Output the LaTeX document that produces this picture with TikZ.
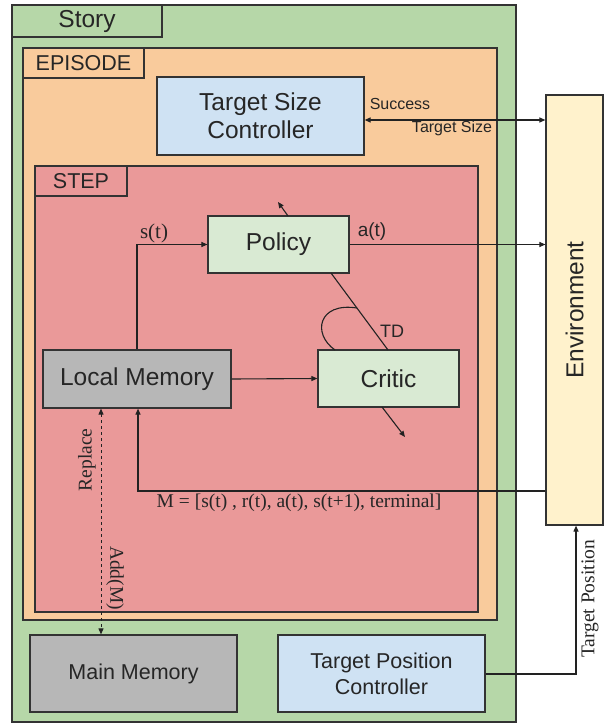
\documentclass[tikz,border=0pt]{standalone}
\usepackage{fontspec}
\setmainfont{Liberation Serif}
\setsansfont{Liberation Sans}
\usetikzlibrary{arrows.meta}
\definecolor{storyc}{HTML}{B6D7A8}
\definecolor{epic}{HTML}{F9CB9C}
\definecolor{stepc}{HTML}{EA9999}
\definecolor{tscc}{HTML}{CFE2F3}
\definecolor{polc}{HTML}{D9EAD3}
\definecolor{memc}{HTML}{B7B7B7}
\definecolor{envc}{HTML}{FFF2CC}
\definecolor{linec}{HTML}{333333}
\definecolor{arrc}{HTML}{222222}
\newcommand\fsz[2]{\fontsize{#1}{#2}\selectfont}
\tikzset{
  box/.style={draw=linec, line width=1.2pt, inner sep=0pt, align=center, text=black!85},
  sz/.style 2 args={minimum width=#1pt, minimum height=#2pt},
  conn/.style={draw=arrc, line width=1.1pt},
  arr/.style={conn, -{Triangle[length=6pt,width=5pt]}},
  arrboth/.style={conn, {Triangle[length=6pt,width=5pt]}-{Triangle[length=6pt,width=5pt]}},
  bigsans/.style={font=\sffamily\fsz{24.5}{28}},
  midsans/.style={font=\sffamily\fsz{21.5}{26}},
  smallsans/.style={font=\sffamily\fsz{16}{18}, inner sep=0pt, text=black!85},
  serif/.style={font=\rmfamily\fsz{19.5}{22}, inner sep=0pt, text=black!85},
}
\begin{document}
\begin{tikzpicture}[x=1pt,y=-1pt]
\useasboundingbox (0,0) rectangle (606,725);
% containers
\node[box, fill=storyc, sz={504}{717}] (story) at (264,363.5) {};
\node[box, fill=storyc, sz={150}{32}, bigsans] (storylab) at (87,21) {Story};
\node[box, fill=epic, sz={474}{572}] (episode) at (260,334) {};
\node[box, fill=epic, sz={121}{30}, midsans] (eplab) at (83.5,63) {EPISODE};
\node[box, fill=tscc, sz={207}{78}, bigsans] (tsc) at (260.5,116) {Target Size\\Controller};
\node[box, fill=stepc, sz={443}{446}] (step) at (256.5,389) {};
\node[box, fill=stepc, sz={92}{30}, midsans] (steplab) at (81,181) {STEP};
% inner nodes
\node[box, fill=polc, sz={141}{57}, bigsans] (policy) at (278.5,244.5) {Policy};
\node[box, fill=polc, sz={141}{57}, bigsans] (critic) at (388.5,378.5) {Critic};
\node[box, fill=memc, sz={188}{58}, bigsans] (lm) at (137,379) {Local Memory};
\node[box, fill=envc, sz={57}{430}] (env) at (574.5,310) {};
\node[rotate=90, bigsans, text=black!85] (envtext) at (env.center) {Environment};
\node[box, fill=memc, sz={207}{77}, midsans] (mm) at (133.5,673.5) {Main Memory};
\node[box, fill=tscc, sz={207}{77}, midsans] (tpc) at (381.5,673.5) {Target Position\\Controller};
% coordinates
\coordinate (ts) at (0,120);
\coordinate (stx) at (137,245);
\coordinate (mrow) at (138,491);
\coordinate (dx) at (101,0);
\coordinate (tp) at (576,674);
\coordinate (d1a) at (288,216);
\coordinate (d1b) at (278,202);
\coordinate (d2a) at (331,273);
\coordinate (d2b) at (388,350);
\coordinate (d3a) at (382,407);
\coordinate (d3b) at (405,437);
\coordinate (loopa) at (335,350);
\coordinate (loopb) at (357,308);
% connectors
\draw[arrboth] (tsc.east |- ts) -- (env.west |- ts);
\draw[arr] (stx |- lm.north) |- (policy.west);
\draw[arr] (policy.east) -- (policy.east -| env.west);
\draw[arr] (lm.east) -- (critic.west);
\draw[arr] (d1a) -- (d1b);
\draw[conn] (d2a) -- (d2b);
\draw[arr] (d3a) -- (d3b);
\draw[conn] (loopa) .. controls (312,334) and (318,302) .. (loopb);
\draw[arr] (env.west |- mrow) -- (mrow) -- (mrow |- lm.south);
\draw[arrboth, dashed, line width=0.9pt] (dx |- lm.south) -- (dx |- mm.north);
\draw[arr] (tpc.east |- tp) -- (tp) -- (tp |- env.south);
% labels
\node[smallsans] (lsucc) at (400,104) {Success};
\node[smallsans] (ltsize) at (452,128) {Target Size};
\node[serif, font=\rmfamily\fsz{21}{24}] (lst) at (154,233) {s(t)};
\node[smallsans, font=\sffamily\fsz{19}{22}] (lat) at (372,232) {a(t)};
\node[smallsans, font=\sffamily\fsz{18}{20}] (ltd) at (392,331) {TD};
\node[serif] (lm2) at (299,503) {M = [s(t) , r(t), a(t), s(t+1), terminal]};
\node[serif, rotate=90] (lrep) at (87,460) {Replace};
\node[serif, rotate=-90] (ladd) at (115,578) {Add(M)};
\node[serif, rotate=90] (ltp) at (590,599) {Target Position};
\end{tikzpicture}
\end{document}
